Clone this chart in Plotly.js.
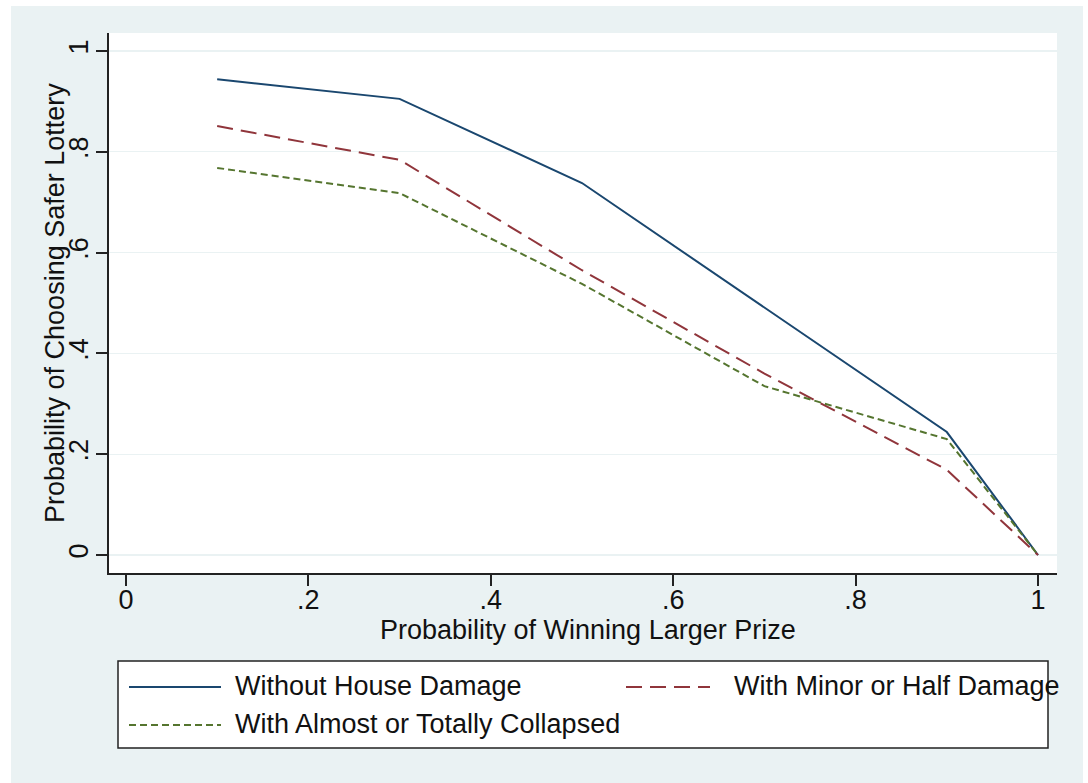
<!DOCTYPE html>
<html>
<head>
<meta charset="utf-8">
<script src="https://cdn.plot.ly/plotly-3.0.1.min.js"></script>
<style>
  html, body { margin: 0; padding: 0; background: #ffffff; }
  #chart { position: absolute; left: 11px; top: 6px; width: 1072px; height: 777px; }
</style>
</head>
<body>
<div id="chart"></div>
<script>
// Probability of winning the larger prize (x) for each lottery choice
const winProb = [0.1, 0.3, 0.5, 0.7, 0.9, 1.0];

// Share choosing the safer lottery, by house damage group
const noDamage = [0.944, 0.905, 0.738, 0.491, 0.244, 0.0];
const minorHalfDamage = [0.851, 0.784, 0.565, 0.360, 0.169, 0.0];
const collapsed = [0.768, 0.718, 0.538, 0.335, 0.230, 0.0];

const seriesNames = [
  'Without House Damage',
  'With Minor or Half Damage',
  'With Almost or Totally Collapsed'
];

const tickVals = [0, 0.2, 0.4, 0.6, 0.8, 1];
const tickText = ['0', '.2', '.4', '.6', '.8', '1'];

const xTitle = 'Probability of Winning Larger Prize';
const yTitle = 'Probability of Choosing Safer Lottery';

// Figure geometry (pixels inside the chart div)
const W = 1072, H = 777;
const M = { l: 98, r: 26, t: 27, b: 210 };
const PW = W - M.l - M.r, PH = H - M.t - M.b;
const px = x => (x - M.l) / PW;
const py = y => (H - M.b - y) / PH;

const FONT = 'Liberation Sans, Arial, sans-serif';
const TXT = '#111111';
const BG = '#eaf2f3';
const colors = ['#1a476f', '#90353b', '#55752f'];
const dashes = ['solid', '16px,8px', '7px,4px'];

const seriesY = [noDamage, minorHalfDamage, collapsed];
const traces = seriesY.map((ys, i) => ({
  type: 'scatter',
  mode: 'lines',
  x: winProb,
  y: ys,
  name: seriesNames[i],
  line: { color: colors[i], width: 2, dash: dashes[i] },
  showlegend: false,
  hoverinfo: 'x+y+name'
}));

// Boxed key below the plot: sample line + label for each series
const keySlots = [
  { x0: 118, x1: 210, tx: 222, y: 680 },
  { x0: 615, x1: 699, tx: 721, y: 680 },
  { x0: 118, x1: 210, tx: 222, y: 718 }
];

const shapes = [{
  type: 'rect', xref: 'paper', yref: 'paper',
  x0: px(107), x1: px(1037), y0: py(742), y1: py(655),
  fillcolor: '#ffffff', line: { color: '#222222', width: 1.5 }, layer: 'above'
}];
const annotations = [];
keySlots.forEach((s, i) => {
  shapes.push({
    type: 'line', xref: 'paper', yref: 'paper',
    x0: px(s.x0), x1: px(s.x1), y0: py(s.y + 1), y1: py(s.y + 1),
    line: { color: colors[i], width: 2, dash: dashes[i] }, layer: 'above'
  });
  annotations.push({
    xref: 'paper', yref: 'paper', x: px(s.tx), y: py(s.y),
    xanchor: 'left', yanchor: 'middle', showarrow: false,
    text: seriesNames[i], font: { family: FONT, size: 27, color: TXT }
  });
});

// Axis titles
annotations.push({
  xref: 'paper', yref: 'paper', x: px(577), y: py(624),
  xanchor: 'center', yanchor: 'middle', showarrow: false,
  text: xTitle, font: { family: FONT, size: 27, color: TXT }
});
annotations.push({
  xref: 'paper', yref: 'paper', x: px(44), y: 0.5,
  xanchor: 'center', yanchor: 'middle', showarrow: false, textangle: -90,
  text: yTitle, font: { family: FONT, size: 27, color: TXT }
});

const layout = {
  width: W, height: H,
  margin: M,
  paper_bgcolor: BG,
  plot_bgcolor: '#ffffff',
  font: { family: FONT, size: 27, color: TXT },
  showlegend: false,
  xaxis: {
    range: [-0.0186, 1.0208],
    tickmode: 'array', tickvals: tickVals, ticktext: tickText,
    ticks: 'outside', ticklen: 11, tickwidth: 2, tickcolor: '#222222',
    ticklabelstandoff: -9,
    showline: true, linecolor: '#222222', linewidth: 2,
    showgrid: false, zeroline: false,
    tickfont: { family: FONT, size: 27, color: TXT }
  },
  yaxis: {
    range: [-0.0357, 1.0357],
    tickmode: 'array', tickvals: tickVals, ticktext: tickText,
    ticks: 'outside', ticklen: 11, tickwidth: 2, tickcolor: '#222222',
    ticklabelstandoff: -3,
    showline: true, linecolor: '#222222', linewidth: 2,
    showgrid: true, gridcolor: BG, gridwidth: 1.2, zeroline: false,
    tickangle: -90,
    tickfont: { family: FONT, size: 27, color: TXT }
  },
  shapes: shapes,
  annotations: annotations
};

Plotly.newPlot('chart', traces, layout, { displayModeBar: false, staticPlot: true });
</script>
</body>
</html>
